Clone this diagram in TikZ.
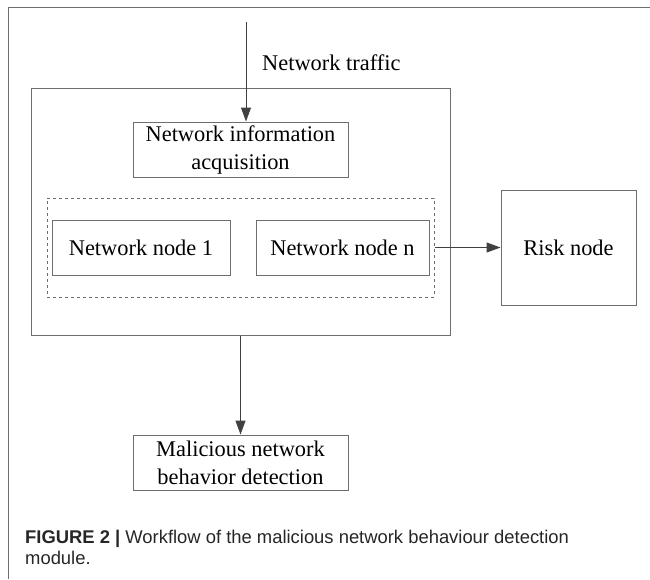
\documentclass[tikz,border=0pt]{standalone}
\usepackage{fontspec}
\setmainfont{Liberation Serif}
\newfontfamily\capfont{Liberation Sans}
\usetikzlibrary{arrows.meta}
\definecolor{linegray}{HTML}{6E6E6E}
\definecolor{tipgray}{HTML}{404040}
\tikzset{
  box/.style={draw=linegray, line width=1pt, inner sep=0pt, align=center,
    font=\fontsize{22.4}{28}\selectfont},
  flow/.style={draw=tipgray, line width=1pt, -{Triangle[length=14pt,width=10pt]}}
}
\begin{document}
\begin{tikzpicture}[x=1pt, y=-1pt]
      \useasboundingbox (0, 0) rectangle (650, 579);
      \draw[linegray, line width=1pt] (8, 579) -- (8, 7) -- (650, 7);
      \node[box, minimum width=419, minimum height=247] (module) at (240.5, 211.5) {};
      \node[box, minimum width=215, minimum height=55] (acq) at (240.5, 149.5) {Network information\\acquisition};
      \node[box, dashed, minimum width=387, minimum height=99] (group) at (240.5, 247.5) {};
      \node[box, minimum width=178, minimum height=55] (node1) at (141, 247.5) {Network node 1};
      \node[box, minimum width=173, minimum height=55] (noden) at (342.5, 247.5) {Network node n};
      \node[box, minimum width=135, minimum height=115] (risk) at (568.5, 247.5) {Risk node};
      \node[box, minimum width=215, minimum height=55] (detect) at (240.5, 462.5) {Malicious network\\behavior detection};
      \node[font=\fontsize{22.4}{28}\selectfont, anchor=west, inner sep=0pt] (traffic) at (262, 63) {Network traffic};
      \coordinate (in) at (246, 22);
      \draw[flow] (in) -- (in |- acq.north);
      \draw[flow] (group.east) -- (risk.west);
      \draw[flow] (module.south) -- (detect.north);
      \node[anchor=north west, inner sep=0pt, align=left, text=black!85,
        font=\capfont\fontsize{18.4}{21}\selectfont] (caption) at (25, 530)
        {\textbf{FIGURE 2 |} Workflow of the malicious network behaviour detection\\module.};
    \end{tikzpicture}
\end{document}
